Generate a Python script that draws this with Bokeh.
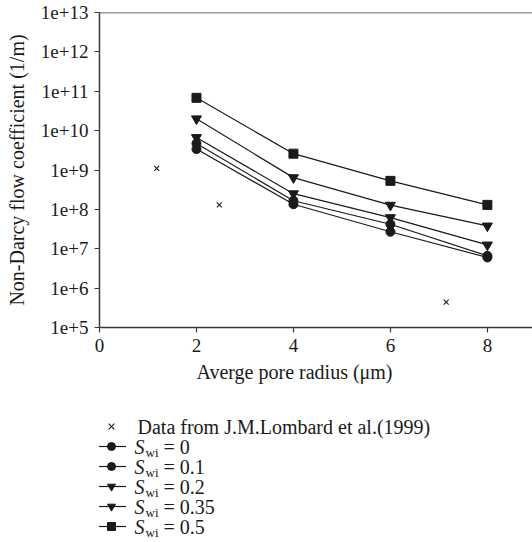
from bokeh.plotting import figure
from bokeh.layouts import column
from bokeh.models import (Range1d, FixedTicker, CustomJSTickFormatter, Span,
                          Legend, LegendItem, Label)
from bokeh.embed import file_html
from bokeh.resources import INLINE

# ---- data ----
radius = [2, 4, 6, 8]
swi_0 = [3.4e9, 1.35e8, 2.7e7, 6.0e6]
swi_01 = [4.7e9, 1.66e8, 4.2e7, 6.6e6]
swi_02 = [6.7e9, 2.5e8, 6.2e7, 1.25e7]
swi_035 = [2.0e10, 6.4e8, 1.28e8, 3.8e7]
swi_05 = [6.8e10, 2.6e9, 5.3e8, 1.3e8]
lombard_x = [1.18, 2.47, 7.15]
lombard_y = [1.1e9, 1.3e8, 4.4e5]

series_labels = ["0", "0.1", "0.2", "0.35", "0.5"]
series_values = [swi_0, swi_01, swi_02, swi_035, swi_05]
series_markers = ["circle", "circle", "inverted_triangle", "inverted_triangle", "square"]
series_sizes = [9, 9, 10, 10, 9]
legend_sizes = [7, 7, 8, 8, 7]
x_ticks = [0, 2, 4, 6, 8]
y_ticks = [1e5, 1e6, 1e7, 1e8, 1e9, 1e10, 1e11, 1e12, 1e13]

FONT = "Liberation Serif"
INK = "#1a1a1a"
AXC = "#3a3a3a"

p = figure(width=532, height=360, output_backend="svg", toolbar_location=None,
           y_axis_type="log", x_range=Range1d(0, 8.93), y_range=Range1d(1e5, 1e13),
           min_border_left=99, min_border_right=0, min_border_top=12, min_border_bottom=33)
p.outline_line_color = None
p.xgrid.visible = False
p.ygrid.visible = False

# axes
xa = p.xaxis[0]
xa.ticker = FixedTicker(ticks=x_ticks)
ya = p.yaxis[0]
ya.ticker = FixedTicker(ticks=y_ticks)
ya.formatter = CustomJSTickFormatter(code="return '1e+' + Math.round(Math.log10(tick));")
for ax in (xa, ya):
    ax.axis_line_color = AXC
    ax.axis_line_width = 1.5
    ax.major_tick_line_color = AXC
    ax.major_tick_line_width = 1.2
    ax.major_tick_in = 0
    ax.major_tick_out = 5
    ax.minor_tick_line_color = None
    ax.major_label_text_font = FONT
    ax.major_label_text_font_size = "19px"
    ax.major_label_text_color = INK
    ax.major_label_standoff = 6
ya.axis_label = "Non-Darcy flow coefficient (1/m)"
ya.axis_label_text_font = FONT
ya.axis_label_text_font_size = "20px"
ya.axis_label_text_font_style = "normal"
ya.axis_label_text_color = INK
ya.axis_label_standoff = 10

# top frame line
p.add_layout(Span(location=p.y_range.end, dimension="width", line_color=AXC, line_width=1.5))

# data
p.scatter(lombard_x, lombard_y, marker="x", size=7, line_color=INK, line_width=1.1)
for vals, mk, sz in zip(series_values, series_markers, series_sizes):
    p.line(radius, vals, line_color=INK, line_width=1.2)
    p.scatter(radius, vals, marker=mk, size=sz, fill_color=INK, line_color=INK)

# ---- legend / x title panel ----
q = figure(width=532, height=182, output_backend="svg", toolbar_location=None,
           x_range=Range1d(-1, 0), y_range=Range1d(-1, 0),
           min_border=0, x_axis_type=None, y_axis_type=None)
q.outline_line_color = None
q.xgrid.visible = False
q.ygrid.visible = False

q.add_layout(Label(x=195, y=171, x_units="screen", y_units="screen",
                   text="Averge pore radius (\u03bcm)", text_font=FONT, text_font_size="20px",
                   text_align="center", text_baseline="middle", text_color=INK))

# legend proxies: same data, outside this panel's (empty) view
lc = q.scatter(lombard_x, lombard_y, marker="x", size=6, line_color=INK, line_width=1.1)
items = [LegendItem(label=" ", renderers=[lc])]
for vals, mk, sz in zip(series_values, series_markers, legend_sizes):
    l1 = q.line(radius, vals, line_color=INK, line_width=1.2)
    s1 = q.scatter(radius, vals, marker=mk, size=sz, fill_color=INK, line_color=INK)
    items.append(LegendItem(label=" ", renderers=[l1, s1]))

legend = Legend(items=items, location=(-3, 6), padding=0, margin=0, spacing=0,
                glyph_height=20, glyph_width=30, label_height=20, label_width=1,
                label_standoff=0, label_text_font_size="1px",
                border_line_color=None, background_fill_alpha=0)
q.add_layout(legend, "center")

q.add_layout(Label(x=38, y=116, x_units="screen", y_units="screen",
                   text="Data from J.M.Lombard et al.(1999)", text_font=FONT,
                   text_font_size="20px", text_baseline="middle", text_color=INK))
for i, lab in enumerate(series_labels):
    yc = 116 - 20 * (i + 1)
    q.add_layout(Label(x=35, y=yc, x_units="screen", y_units="screen", text="S",
                       text_font=FONT, text_font_size="20px", text_font_style="italic",
                       text_baseline="middle", text_color=INK))
    q.add_layout(Label(x=46, y=yc - 6, x_units="screen", y_units="screen", text="wi",
                       text_font=FONT, text_font_size="13px",
                       text_baseline="middle", text_color=INK))
    q.add_layout(Label(x=64, y=yc, x_units="screen", y_units="screen", text="= " + lab,
                       text_font=FONT, text_font_size="20px",
                       text_baseline="middle", text_color=INK))

layout = column(p, q, spacing=0)
open("out.html", "w").write(file_html(layout, INLINE))
